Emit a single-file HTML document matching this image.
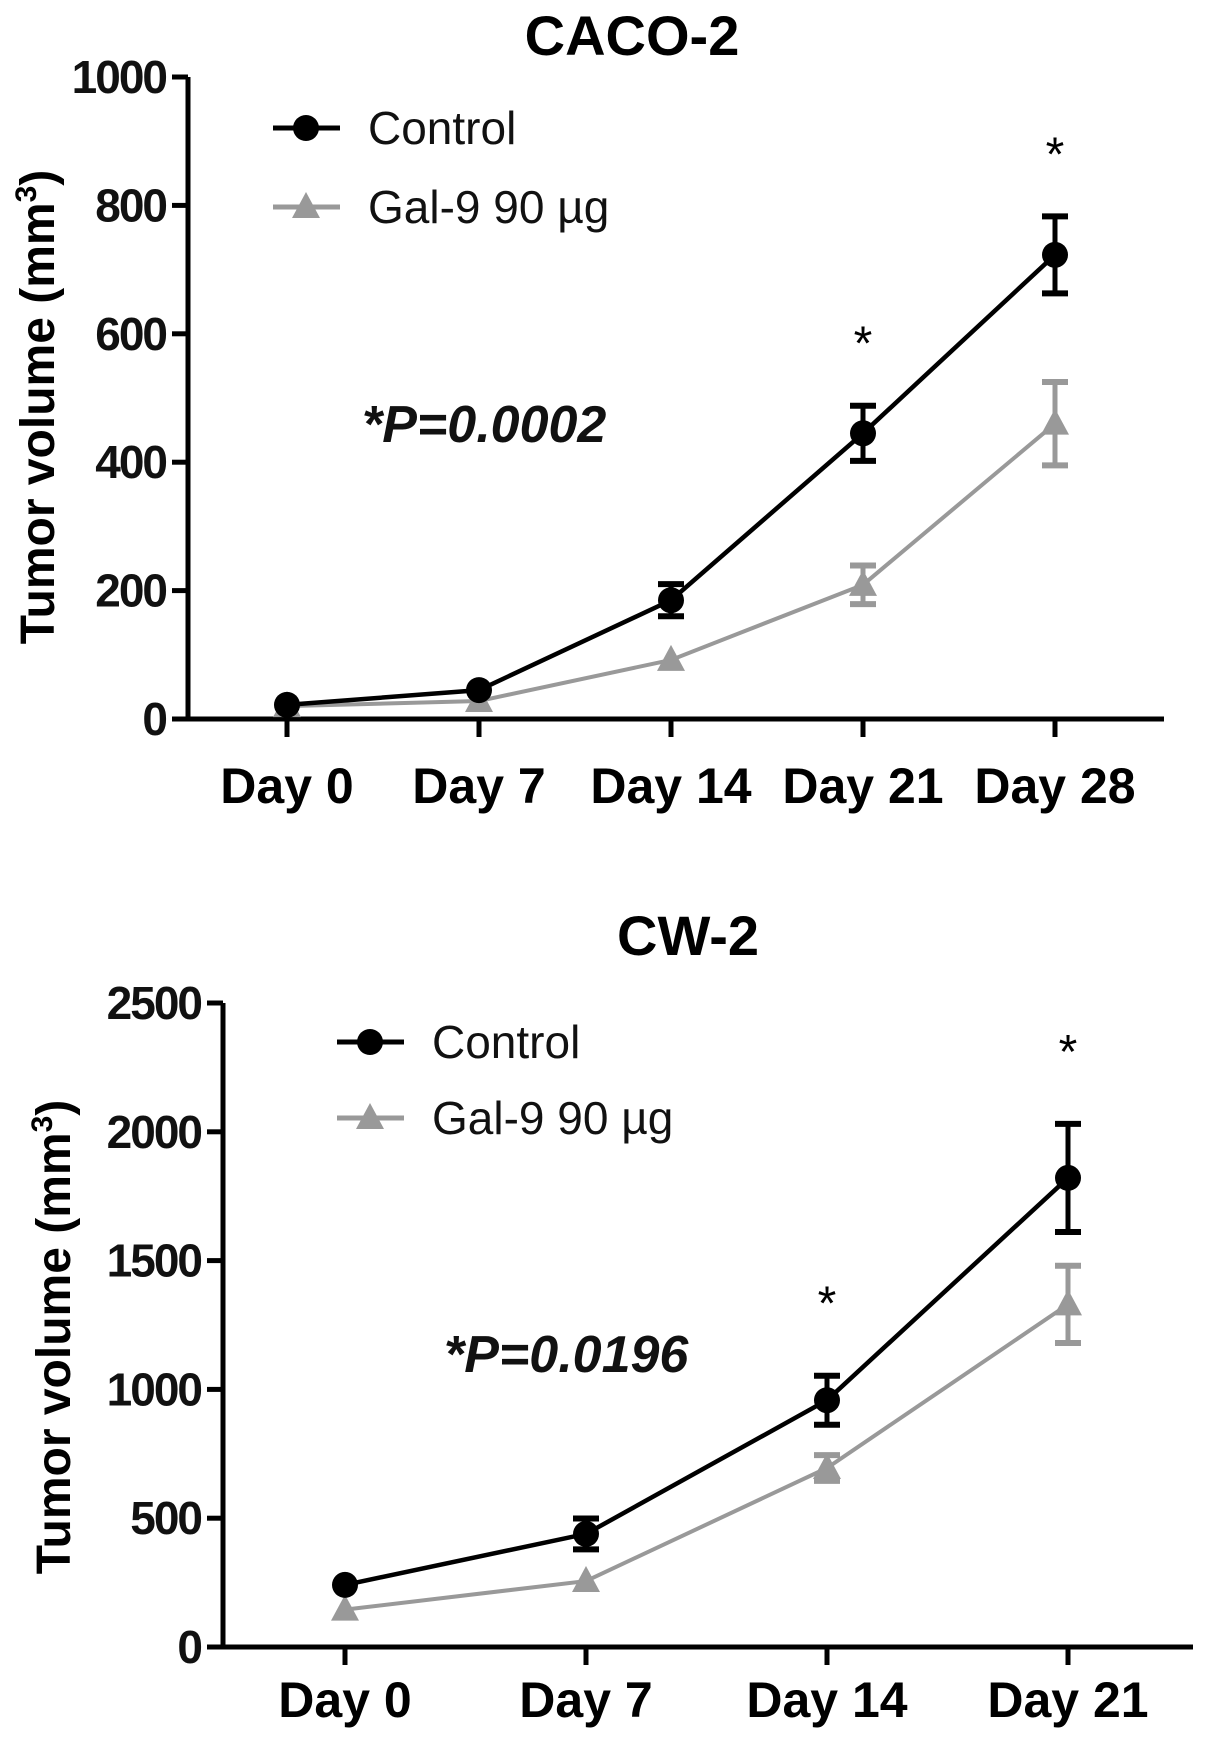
<!DOCTYPE html>
<html><head><meta charset="utf-8"><style>
html,body{margin:0;padding:0;background:#fff;}
svg{display:block;font-family:"Liberation Sans",Arial,sans-serif;}
</style></head><body>
<svg id="svg" width="1205" height="1743" viewBox="0 0 1205 1743" xmlns="http://www.w3.org/2000/svg"></svg>
<script>
// Chart A (CACO-2)
const catsA = ["Day 0","Day 7","Day 14","Day 21","Day 28"];
const ctrlA = [22, 45, 185, 445, 723];
const ctrlErrA = [0, 0, 25, 43, 60];
const galA = [20, 28, 92, 209, 460];
const galErrA = [0, 0, 0, 30, 65];
const ticksA = [0, 200, 400, 600, 800, 1000];
const starsA = [3, 4];
// Chart B (CW-2)
const catsB = ["Day 0","Day 7","Day 14","Day 21"];
const ctrlB = [241, 439, 958, 1821];
const ctrlErrB = [0, 60, 95, 210];
const galB = [145, 256, 695, 1330];
const galErrB = [0, 0, 50, 150];
const ticksB = [0, 500, 1000, 1500, 2000, 2500];
const starsB = [2, 3];

const NS = "http://www.w3.org/2000/svg";
const svg = document.getElementById('svg');
function mk(tag, attrs, parent, text){
  const e = document.createElementNS(NS, tag);
  for (const k in attrs) e.setAttribute(k, attrs[k]);
  if (text !== undefined) e.textContent = text;
  (parent || svg).appendChild(e);
  return e;
}

function chart(cfg){
  const g = mk('g', {});
  
  
  const y = v => cfg.y0 - (v - cfg.ymin) / (cfg.ymax - cfg.ymin) * (cfg.y0 - cfg.ytop);
  const x = i => cfg.x0tick + i * cfg.xstep;

  const t = mk('text', {x: cfg.titleX, y: cfg.titleY, 'font-size': 56, 'font-weight': 'bold', 'text-anchor': 'middle', fill: '#000'}, g, cfg.title);
  
  

  const ya = mk('line', {x1: cfg.ax, y1: cfg.ytop, x2: cfg.ax, y2: cfg.y0 + 2, stroke: '#000', 'stroke-width': 5}, g);
  
  
  const xa = mk('line', {x1: cfg.ax - 16, y1: cfg.y0, x2: cfg.xend, y2: cfg.y0, stroke: '#000', 'stroke-width': 5}, g);
  
  

  cfg.ticks.forEach(v => {
    const yy = y(v);
    const tk = mk('line', {x1: cfg.ax - 16, y1: yy, x2: cfg.ax, y2: yy, stroke: '#000', 'stroke-width': 5}, g);
    
    
    const tl = mk('text', {x: cfg.ax - 22, y: yy + 16, 'font-size': 46, 'font-weight': 'bold', 'text-anchor': 'end', fill: '#111', 'letter-spacing': '-2'}, g, String(v));
    
    
  });
  cfg.cats.forEach((c, i) => {
    const tk = mk('line', {x1: x(i), y1: cfg.y0, x2: x(i), y2: cfg.y0 + 18, stroke: '#000', 'stroke-width': 5}, g);
    
    
    const tl = mk('text', {x: x(i), y: cfg.labY, 'font-size': 50, 'font-weight': 'bold', 'text-anchor': 'middle', fill: '#000'}, g, c);
    
    
  });

  const yt = mk('text', {x: 0, y: 0, 'font-size': 48, 'font-weight': 'bold', 'text-anchor': 'middle', fill: '#000', transform: `translate(${cfg.ytX},${cfg.ytY}) rotate(-90)`}, g);
  
  
  mk('tspan', {}, yt, 'Tumor volume (mm');
  mk('tspan', {'font-size': 30, dy: -18}, yt, '3');
  mk('tspan', {dy: 18}, yt, ')');

  function series(vals, errs, color, shape, nm){
    const sg = mk('g', {}, g);
    
    
    const pts = vals.map((v, i) => x(i) + ',' + y(v)).join(' ');
    mk('polyline', {points: pts, fill: 'none', stroke: color, 'stroke-width': shape === 'c' ? 4.5 : 4}, sg);
    vals.forEach((v, i) => {
      if (errs[i] > 0) {
        const e = errs[i];
        mk('line', {x1: x(i), y1: y(v + e), x2: x(i), y2: y(v - e), stroke: color, 'stroke-width': 5}, sg);
        mk('line', {x1: x(i) - 13, y1: y(v + e), x2: x(i) + 13, y2: y(v + e), stroke: color, 'stroke-width': 6}, sg);
        mk('line', {x1: x(i) - 13, y1: y(v - e), x2: x(i) + 13, y2: y(v - e), stroke: color, 'stroke-width': 6}, sg);
      }
      let m;
      if (shape === 'c') m = mk('circle', {cx: x(i), cy: y(v), r: 13, fill: color}, sg);
      else { const cx = x(i), cy = y(v);
        m = mk('polygon', {points: `${cx},${cy-15} ${cx+14},${cy+11} ${cx-14},${cy+11}`, fill: color}, sg); }
      
      
    });
  }
  series(cfg.gal, cfg.galErr, '#999', 't', 'gal9-series');
  series(cfg.ctrl, cfg.ctrlErr, '#000', 'c', 'control-series');

  cfg.stars.forEach(i => {
    const top = cfg.ctrl[i] + cfg.ctrlErr[i];
    const s = mk('text', {x: x(i), y: y(top) - cfg.starGap, 'font-size': 48, 'text-anchor': 'middle', fill: '#000'}, g, '*');
    
    
  });

  const p = mk('text', {x: cfg.pX, y: cfg.pY, 'font-size': 52, 'font-weight': 'bold', 'font-style': 'italic', fill: '#111'}, g, cfg.pText);
  
  

  const lg = mk('g', {}, g);
  
  
  const L = cfg.legX;
  const e1 = mk('g', {}, lg);
  
  
  mk('line', {x1: L, y1: cfg.legY1, x2: L + 67, y2: cfg.legY1, stroke: '#000', 'stroke-width': 5}, e1);
  mk('circle', {cx: L + 33, cy: cfg.legY1, r: 13, fill: '#000'}, e1);
  mk('text', {x: L + 95, y: cfg.legY1 + 16, 'font-size': 46, fill: '#111'}, e1, 'Control');
  const e2 = mk('g', {}, lg);
  
  
  mk('line', {x1: L, y1: cfg.legY2, x2: L + 67, y2: cfg.legY2, stroke: '#999', 'stroke-width': 5}, e2);
  const cx = L + 33, cy = cfg.legY2;
  mk('polygon', {points: `${cx},${cy-15} ${cx+14},${cy+11} ${cx-14},${cy+11}`, fill: '#999'}, e2);
  mk('text', {x: L + 95, y: cfg.legY2 + 16, 'font-size': 46, fill: '#111'}, e2, 'Gal-9 90 µg');
}

chart({name: 'caco2-chart', title: 'CACO-2', titleX: 632, titleY: 55,
  ax: 188, y0: 719, ytop: 77, ymin: 0, ymax: 1000, xend: 1164,
  x0tick: 287, xstep: 192, labY: 803, cats: catsA, ticks: ticksA,
  ctrl: ctrlA, ctrlErr: ctrlErrA, gal: galA, galErr: galErrA, stars: starsA, starGap: 46,
  ytX: 54, ytY: 407, pX: 362, pY: 442, pText: '*P=0.0002',
  legX: 273, legY1: 128, legY2: 207});

chart({name: 'cw2-chart', title: 'CW-2', titleX: 688, titleY: 955,
  ax: 223, y0: 1647, ytop: 1003, ymin: 0, ymax: 2500, xend: 1193,
  x0tick: 345, xstep: 241, labY: 1717, cats: catsB, ticks: ticksB,
  ctrl: ctrlB, ctrlErr: ctrlErrB, gal: galB, galErr: galErrB, stars: starsB, starGap: 56,
  ytX: 70, ytY: 1337, pX: 444, pY: 1372, pText: '*P=0.0196',
  legX: 337, legY1: 1042, legY2: 1118});
</script>
</body></html>
